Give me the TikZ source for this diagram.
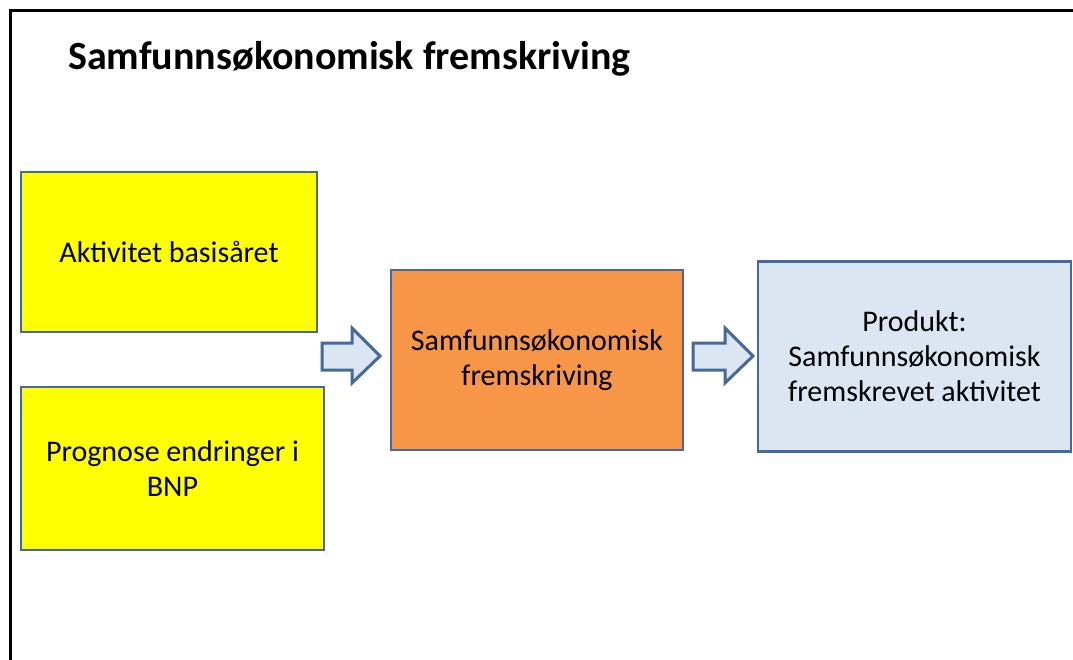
\documentclass[tikz,border=0pt]{standalone}
\usepackage{fontspec}
\setmainfont{Carlito}
\definecolor{boxline}{HTML}{44699A}
\definecolor{inyellow}{HTML}{FFFF00}
\definecolor{procorange}{HTML}{F79646}
\definecolor{outblue}{HTML}{DCE6F2}
\begin{document}
\begin{tikzpicture}[x=1pt,y=-1pt,
  block/.style={draw=boxline,line width=2.8pt,rectangle,align=center,
    font=\fontsize{30}{35}\selectfont,inner sep=0pt},
  blockarrow/.style={draw=boxline,line width=3pt,fill=outblue,line join=miter}]
\useasboundingbox (0,0) rectangle (1073,660);
\fill[white] (0,0) rectangle (1073,660);
% frame
\draw[line width=3pt] (10.5,661) -- (10.5,10.5) -- (1074,10.5);
% title
\node[anchor=base west,inner sep=0pt,font=\fontsize{40}{48}\selectfont\bfseries] (title) at (68,70) {Samfunnsøkonomisk fremskriving};
% inputs
\node[block,fill=inyellow,minimum width=296pt,minimum height=160pt] (base) at (169,252) {Aktivitet basisåret};
\node[block,fill=inyellow,minimum width=303pt,minimum height=163pt] (bnp) at (172.5,468.5) {Prognose endringer i\\BNP};
% process
\node[block,fill=procorange,minimum width=292pt,minimum height=180pt] (proc) at (537,360) {Samfunnsøkonomisk\\fremskriving};
% result
\node[block,fill=outblue,minimum width=313pt,minimum height=190pt] (prod) at (914.5,356.5) {Produkt:\\Samfunnsøkonomisk\\fremskrevet aktivitet};
% block arrows
\draw[blockarrow] (322,343) -- (352,343) -- (352,328) -- (380,356) -- (352,383) -- (352,370) -- (322,370) -- cycle;
\draw[blockarrow] (693,343) -- (725,343) -- (725,328) -- (753,356) -- (725,383) -- (725,370) -- (693,370) -- cycle;
\end{tikzpicture}
\end{document}
